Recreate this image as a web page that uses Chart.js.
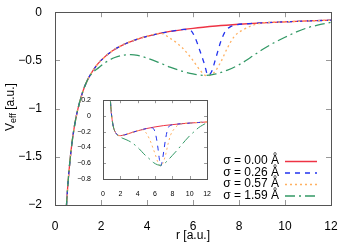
<!DOCTYPE html>
<html>
<head>
<meta charset="utf-8">
<script src="https://cdn.jsdelivr.net/npm/chart.js@4.4.1/dist/chart.umd.min.js"></script>
<style>
  body { margin: 0; background: #fff; }
  #wrap { position: relative; width: 352px; height: 244px; }
  #main { position: absolute; left: 0; top: 0; }
  #inset { position: absolute; left: 72px; top: 92px; }
</style>
</head>
<body>
<div id="wrap">
  <canvas id="main" width="352" height="244"></canvas>
  <canvas id="inset" width="142" height="108"></canvas>
</div>
<script>
// main plot, V_eff vs r
const rRed = [0.45, 0.5, 0.55, 0.6, 0.7, 0.8, 0.9, 1, 1.2, 1.4, 1.6, 1.8, 2, 2.5, 3, 3.5, 4, 5, 6, 7, 8, 9, 10, 11, 12];
const vRed = [-2.22, -2, -1.82, -1.67, -1.43, -1.25, -1.11, -1, -0.83, -0.71, -0.625, -0.555, -0.5, -0.4, -0.333, -0.286, -0.25, -0.2, -0.167, -0.143, -0.125, -0.111, -0.1, -0.091, -0.083];

const rBlue = [0.45, 0.5, 0.55, 0.6, 0.7, 0.8, 0.9, 1, 1.2, 1.4, 1.6, 1.8, 2, 2.5, 3, 3.5, 4, 5, 5.6, 5.9, 6.1, 6.3, 6.5, 6.65, 6.8, 7.0, 7.2, 7.4, 7.6, 7.9, 8.5, 9, 10, 11, 12];
const vBlue = [-2.22, -2, -1.82, -1.67, -1.43, -1.25, -1.11, -1, -0.83, -0.71, -0.625, -0.555, -0.5, -0.4, -0.333, -0.286, -0.25, -0.2, -0.179, -0.19, -0.27, -0.4, -0.54, -0.655, -0.62, -0.47, -0.31, -0.2, -0.155, -0.13, -0.118, -0.111, -0.1, -0.091, -0.083];

const rOrange = [0.45, 0.5, 0.55, 0.6, 0.7, 0.8, 0.9, 1, 1.2, 1.4, 1.6, 1.8, 2, 2.5, 3, 3.5, 4, 4.6, 5.0, 5.3, 5.5, 5.8, 6.0, 6.3, 6.6, 6.9, 7.2, 7.5, 7.8, 8.2, 8.6, 9, 10, 11, 12];
const vOrange = [-2.22, -2, -1.82, -1.67, -1.43, -1.25, -1.11, -1, -0.83, -0.71, -0.625, -0.555, -0.5, -0.4, -0.333, -0.286, -0.25, -0.22, -0.27, -0.32, -0.36, -0.44, -0.5, -0.6, -0.66, -0.63, -0.52, -0.37, -0.25, -0.18, -0.135, -0.113, -0.1, -0.091, -0.083];

const rGreen = [0.45, 0.5, 0.55, 0.6, 0.7, 0.8, 0.9, 1, 1.2, 1.4, 1.6, 1.9, 2.2, 2.6, 3.0, 3.3, 3.6, 4.0, 4.5, 5.0, 5.5, 6.0, 6.5, 7.0, 7.5, 8.0, 8.5, 9.0, 9.5, 10, 10.5, 11, 11.5, 12];
const vGreen = [-2.22, -2, -1.82, -1.67, -1.43, -1.25, -1.11, -1, -0.83, -0.71, -0.635, -0.575, -0.52, -0.47, -0.445, -0.44, -0.448, -0.475, -0.52, -0.57, -0.61, -0.64, -0.655, -0.64, -0.6, -0.545, -0.47, -0.39, -0.32, -0.26, -0.205, -0.16, -0.13, -0.105];

// inset
const rInRed = [0.75, 0.8, 0.9, 1, 1.2, 1.5, 2, 2.5, 3, 4, 5, 6, 7, 8, 9, 10, 11, 12];
const vInRed = [0.44, 0.31, 0.12, 0, -0.14, -0.22, -0.25, -0.24, -0.222, -0.188, -0.16, -0.139, -0.122, -0.11, -0.099, -0.09, -0.083, -0.076];

const rInBlue = [0.75, 0.8, 0.9, 1, 1.2, 1.5, 2, 2.5, 3, 4, 5, 5.6, 5.9, 6.1, 6.3, 6.5, 6.65, 6.8, 7.0, 7.2, 7.4, 7.6, 7.9, 8.5, 9, 10, 11, 12];
const vInBlue = [0.44, 0.31, 0.12, 0, -0.14, -0.22, -0.25, -0.24, -0.222, -0.188, -0.16, -0.15, -0.175, -0.25, -0.38, -0.55, -0.635, -0.59, -0.45, -0.3, -0.19, -0.135, -0.115, -0.104, -0.099, -0.09, -0.083, -0.076];

const rInOrange = [0.75, 0.8, 0.9, 1, 1.2, 1.5, 2, 2.5, 3, 4, 4.6, 5.0, 5.3, 5.5, 5.8, 6.0, 6.3, 6.6, 6.9, 7.2, 7.5, 7.8, 8.2, 8.6, 9, 10, 11, 12];
const vInOrange = [0.44, 0.31, 0.12, 0, -0.14, -0.22, -0.25, -0.24, -0.222, -0.188, -0.175, -0.22, -0.28, -0.33, -0.42, -0.48, -0.58, -0.635, -0.6, -0.5, -0.355, -0.24, -0.165, -0.12, -0.1, -0.09, -0.083, -0.076];

const rInGreen = [0.75, 0.8, 0.9, 1, 1.2, 1.5, 1.8, 2.2, 2.65, 3.2, 3.7, 4.2, 4.7, 5.3, 5.8, 6.3, 6.6, 7.0, 7.5, 8.0, 8.5, 9.0, 9.5, 10, 10.5, 11, 11.5, 12];
const vInGreen = [0.44, 0.31, 0.12, 0, -0.14, -0.22, -0.255, -0.28, -0.3, -0.33, -0.37, -0.42, -0.48, -0.54, -0.59, -0.62, -0.625, -0.61, -0.56, -0.5, -0.44, -0.375, -0.31, -0.25, -0.2, -0.15, -0.115, -0.085];

const etiquetas = ["σ = 0.00 Å", "σ = 0.26 Å", "σ = 0.57 Å", "σ = 1.59 Å"];
const colores = ["#ee3344", "#2233ee", "#ffb060", "#339966"];
const guiones = [[], [5, 5], [2, 3], [10, 4, 2, 4]];

Chart.defaults.font.family = "'Liberation Sans', Arial, sans-serif";
Chart.defaults.color = "#000";

const menos = v => String(v).replace("-", "\u2212");
const pares = (rs, vs) => rs.map((r, i) => ({ x: r, y: vs[i] }));

function series(grupos, ancho) {
  return grupos.map((g, i) => ({
    label: etiquetas[i],
    data: pares(g[0], g[1]),
    borderColor: colores[i],
    borderDash: guiones[i],
    borderWidth: ancho,
    pointRadius: 0,
    cubicInterpolationMode: "monotone",
    order: 4 - i
  }));
}

// borde y marcas hacia adentro
const marco = {
  id: "marco",
  afterDatasetsDraw(chart, args, opts) {
    const { ctx, chartArea: a, scales: { x, y } } = chart;
    ctx.save();
    ctx.lineWidth = 1;
    ctx.strokeStyle = "#999";
    ctx.beginPath();
    x.ticks.forEach(t => {
      const px = Math.round(x.getPixelForValue(t.value)) + 0.5;
      ctx.moveTo(px, a.bottom); ctx.lineTo(px, a.bottom - opts.len);
      ctx.moveTo(px, a.top); ctx.lineTo(px, a.top + opts.len);
    });
    y.ticks.forEach(t => {
      const py = Math.round(y.getPixelForValue(t.value)) + 0.5;
      ctx.moveTo(a.left, py); ctx.lineTo(a.left + opts.len, py);
      ctx.moveTo(a.right, py); ctx.lineTo(a.right - opts.len, py);
    });
    ctx.stroke();
    ctx.strokeStyle = "#555";
    ctx.strokeRect(Math.round(a.left) + 0.5, Math.round(a.top) + 0.5, Math.round(a.width), Math.round(a.height));
    ctx.restore();
  }
};

// leyenda y titulos de ejes
const textos = {
  id: "textos",
  afterDraw(chart) {
    const { ctx } = chart;
    ctx.save();
    ctx.fillStyle = "#000";
    ctx.font = "12px 'Liberation Sans', Arial, sans-serif";
    ctx.textBaseline = "middle";
    ctx.textAlign = "center";
    ctx.fillText("r [a.u.]", 193, 236);

    // V_eff con subindice
    ctx.translate(10.5, 107);
    ctx.rotate(-Math.PI / 2);
    ctx.textAlign = "left";
    const f1 = "12px 'Liberation Sans', Arial, sans-serif";
    const f2 = "9px 'Liberation Sans', Arial, sans-serif";
    ctx.font = f1; const w1 = ctx.measureText("V").width;
    const w3 = ctx.measureText(" [a.u.]").width;
    ctx.font = f2; const w2 = ctx.measureText("eff").width;
    let x0 = -(w1 + w2 + w3) / 2;
    ctx.font = f1; ctx.fillText("V", x0, 0);
    ctx.font = f2; ctx.fillText("eff", x0 + w1, 3.5);
    ctx.font = f1; ctx.fillText(" [a.u.]", x0 + w1 + w2, 0);
    ctx.restore();

    ctx.save();
    ctx.font = "12px 'Liberation Sans', Arial, sans-serif";
    ctx.textBaseline = "middle";
    ctx.textAlign = "right";
    chart.data.datasets.forEach((d, i) => {
      const yy = 161 + i * 11.5;
      ctx.fillStyle = "#000";
      ctx.fillText(d.label, 279, yy);
      ctx.strokeStyle = d.borderColor;
      ctx.lineWidth = 1.5;
      ctx.setLineDash(d.borderDash);
      ctx.beginPath();
      ctx.moveTo(285, yy + 0.5);
      ctx.lineTo(317, yy + 0.5);
      ctx.stroke();
    });
    ctx.restore();
  }
};

new Chart(document.getElementById("main"), {
  type: "line",
  data: {
    datasets: series([[rRed, vRed], [rBlue, vBlue], [rOrange, vOrange], [rGreen, vGreen]], 1.3)
  },
  options: {
    responsive: false,
    animation: false,
    layout: { padding: { top: 9.5, right: 21, left: 0, bottom: 0 } },
    plugins: { legend: { display: false }, tooltip: { enabled: false }, marco: { len: 5 } },
    scales: {
      x: {
        type: "linear", min: 0, max: 12,
        grid: { display: false }, border: { display: false },
        ticks: { stepSize: 2, font: { size: 12 }, padding: 6, maxRotation: 0 },
        afterFit: s => { s.height = 39; }
      },
      y: {
        min: -2, max: 0,
        grid: { display: false }, border: { display: false },
        ticks: { stepSize: 0.5, font: { size: 12 }, padding: 5, callback: menos },
        afterFit: s => { s.width = 55; }
      }
    }
  },
  plugins: [marco, textos]
});

new Chart(document.getElementById("inset"), {
  type: "line",
  data: {
    datasets: series([[rInRed, vInRed], [rInBlue, vInBlue], [rInOrange, vInOrange], [rInGreen, vInGreen]], 1)
  },
  options: {
    responsive: false,
    animation: false,
    layout: { padding: { top: 7, right: 4, left: 0, bottom: 0 } },
    plugins: { legend: { display: false }, tooltip: { enabled: false }, marco: { len: 3 } },
    scales: {
      x: {
        type: "linear", min: 0, max: 12,
        grid: { display: false }, border: { display: false },
        ticks: { stepSize: 2, font: { size: 7 }, padding: 3, maxRotation: 0, autoSkip: false },
        afterFit: s => { s.height = 21; }
      },
      y: {
        min: -0.8, max: 0.2,
        grid: { display: false }, border: { display: false },
        ticks: {
          stepSize: 0.2, font: { size: 7 }, padding: 4,
          callback: v => Math.abs(v) < 1e-9 ? "0" : menos((Math.round(v * 10) / 10).toFixed(1))
        },
        afterFit: s => { s.width = 31; }
      }
    }
  },
  plugins: [marco]
});
</script>
</body>
</html>
